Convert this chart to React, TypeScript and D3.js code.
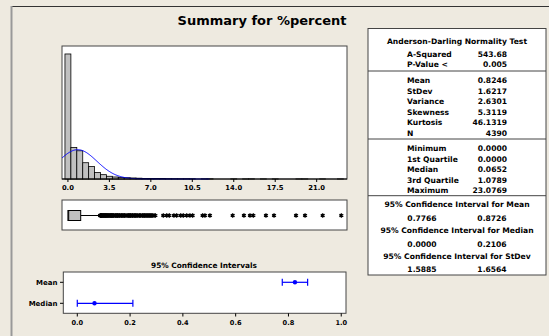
import React from 'react';
import * as d3 from 'd3';

// histogram bins (midpoints, width 0.5) and counts
const binMids = [0, 0.5, 1, 1.5, 2, 2.5, 3, 3.5, 4, 4.5, 5, 5.5, 6, 6.5, 7, 7.5, 8, 8.5, 9, 9.5, 10, 10.5, 11.5, 12, 14, 15, 15.5, 16.5, 17.5, 19.5, 20, 21.5, 23];
const binCounts = [2303, 580, 520, 300, 230, 120, 80, 50, 37, 29, 24, 19, 15, 11, 8, 10, 8, 7, 6, 5, 6, 4, 3, 3, 2, 1, 2, 1, 1, 1, 1, 1, 1];
const histTicks = [0, 3.5, 7, 10.5, 14, 17.5, 21];

// summary stats
const mean = 0.8246;
const stdev = 1.6217;
const nObs = 4390;
const quartiles = { min: 0, q1: 0, median: 0.0652, q3: 1.0789, max: 23.0769 };
const whiskerHigh = 2.7;
const outliers = [
  2.72, 2.75, 2.78, 2.8, 2.83, 2.86, 2.9, 2.94, 3.0, 3.03, 3.08, 3.12, 3.17, 3.2, 3.25, 3.3, 3.33, 3.4, 3.45, 3.5,
  3.57, 3.6, 3.67, 3.7, 3.75, 3.8, 3.85, 3.9, 4.0, 4.05, 4.1, 4.17, 4.2, 4.29, 4.35, 4.4, 4.5, 4.55, 4.6, 4.7,
  4.76, 4.8, 4.9, 5.0, 5.08, 5.13, 5.2, 5.26, 5.3, 5.4, 5.45, 5.5, 5.6, 5.66, 5.7, 5.8, 5.88, 6.0, 6.06, 6.12,
  6.25, 6.3, 6.4, 6.45, 6.52, 6.6, 6.67, 6.74, 6.82, 6.9, 6.98, 7.06, 7.14, 7.27, 7.38,
  8.05, 8.34, 8.56, 8.95, 9.18, 9.52, 9.74, 10.03, 10.3, 10.53, 11.37, 11.57, 11.99, 13.91, 14.86, 15.37, 15.65,
  16.72, 17.4, 19.26, 20.02, 21.51, 23.08,
];

// confidence intervals
const ciNames = ['Mean', 'Median'];
const ciLow = [0.7766, 0.0];
const ciEst = [0.8246, 0.0652];
const ciHigh = [0.8726, 0.2106];
const ciTicks = [0, 0.2, 0.4, 0.6, 0.8, 1.0];

// table rows
const adLabels = ['A-Squared', 'P-Value <'];
const adValues = ['543.68', '0.005'];
const momentLabels = ['Mean', 'StDev', 'Variance', 'Skewness', 'Kurtosis', 'N'];
const momentValues = ['0.8246', '1.6217', '2.6301', '5.3119', '46.1319', '4390'];
const quantLabels = ['Minimum', '1st Quartile', 'Median', '3rd Quartile', 'Maximum'];
const quantValues = ['0.0000', '0.0000', '0.0652', '1.0789', '23.0769'];
const ciTitles = ['95% Confidence Interval for Mean', '95% Confidence Interval for Median', '95% Confidence Interval for StDev'];
const ciTableLow = ['0.7766', '0.0000', '1.5885'];
const ciTableHigh = ['0.8726', '0.2106', '1.6564'];

const FONT = '"DejaVu Sans", Verdana, sans-serif';
const BG = '#EEEAE0';
const FRAME = '#444';
const TFS = 7.6; // table font size

export default function App() {
  // histogram
  const xH = d3.scaleLinear().domain([-0.5, 23.56]).range([62, 347]);
  const yH = d3.scaleLinear().domain([0, 2450]).range([179, 46]);
  const binW = 0.5;
  const pdf = (v: number) => Math.exp(-0.5 * ((v - mean) / stdev) ** 2) / (stdev * Math.sqrt(2 * Math.PI));
  const curvePts = d3.range(-0.5, 12, 0.05).map(v => [v, nObs * binW * pdf(v)] as [number, number]);
  const curve = d3.line<[number, number]>().x(d => xH(d[0])).y(d => yH(d[1]))(curvePts) || '';

  // boxplot
  const boxY = 215.5;
  const star = d3.symbol(d3.symbolAsterisk, 14)() || '';

  // CI plot
  const xC = d3.scaleLinear().domain([-0.053, 1.018]).range([63.3, 346]);
  const yC = d3.scalePoint().domain(ciNames).range([282.3, 303.3]);

  const rowH = 10.6;
  const labX = 407;
  const valX = 507;

  return (
    <svg width={549} height={336} style={{ position: 'absolute', left: 0, top: 0 }} fontFamily={FONT}>
      <rect x={0} y={0} width={549} height={336} fill={BG} />
      <line x1={11} x2={549} y1={6.5} y2={6.5} stroke="#333" strokeWidth={1} />
      <line x1={11.5} x2={11.5} y1={6} y2={336} stroke="#999" strokeWidth={2} />

      <text x={262} y={25} textAnchor="middle" fontSize={13} fontWeight="bold" fill="#000">Summary for %percent</text>

      {/* histogram */}
      <rect x={62} y={46} width={285} height={133} fill="#fff" stroke={FRAME} />
      {binMids.map((m, i) => (
        <rect key={i} x={xH(m - binW / 2)} y={yH(binCounts[i])} width={xH(m + binW / 2) - xH(m - binW / 2)}
          height={yH(0) - yH(binCounts[i])} fill="#C0C0C0" stroke="#000" strokeWidth={0.8} />
      ))}
      <path d={curve} fill="none" stroke="#0000FF" strokeWidth={1} />
      <line x1={62} x2={347} y1={179} y2={179} stroke="#000" strokeWidth={1.2} />
      {histTicks.map(t => (
        <g key={t}>
          <line x1={xH(t)} x2={xH(t)} y1={179} y2={182} stroke="#000" />
          <text x={xH(t)} y={190} textAnchor="middle" fontSize={6.8} fontWeight="bold">{t.toFixed(1)}</text>
        </g>
      ))}

      {/* boxplot */}
      <rect x={62} y={200} width={285} height={30} fill="#fff" stroke={FRAME} />
      <line x1={xH(quartiles.q3)} x2={xH(whiskerHigh)} y1={boxY} y2={boxY} stroke="#000" />
      <rect x={xH(quartiles.q1)} y={boxY - 5} width={xH(quartiles.q3) - xH(quartiles.q1)} height={10}
        fill="#C0C0C0" stroke="#000" />
      <line x1={xH(quartiles.median)} x2={xH(quartiles.median)} y1={boxY - 5} y2={boxY + 5} stroke="#000" />
      {outliers.map((o, i) => (
        <path key={i} d={star} transform={`translate(${xH(o)},${boxY})`} fill="none" stroke="#000" strokeWidth={1.3} />
      ))}

      {/* CI plot */}
      <text x={204} y={268} textAnchor="middle" fontSize={7.4} fontWeight="bold">95% Confidence Intervals</text>
      <rect x={63.3} y={272} width={282.7} height={41.3} fill="#fff" stroke={FRAME} />
      {ciNames.map((n, i) => {
        const y = yC(n) as number;
        return (
          <g key={n}>
            <line x1={60} x2={63.3} y1={y} y2={y} stroke="#000" />
            <text x={57.5} y={y + 2.5} textAnchor="end" fontSize={7} fontWeight="bold">{n}</text>
            <line x1={xC(ciLow[i])} x2={xC(ciHigh[i])} y1={y} y2={y} stroke="#0000FF" strokeWidth={1.2} />
            <line x1={xC(ciLow[i])} x2={xC(ciLow[i])} y1={y - 3.5} y2={y + 3.5} stroke="#0000FF" strokeWidth={1.2} />
            <line x1={xC(ciHigh[i])} x2={xC(ciHigh[i])} y1={y - 3.5} y2={y + 3.5} stroke="#0000FF" strokeWidth={1.2} />
            <circle cx={xC(ciEst[i])} cy={y} r={2.2} fill="#0000FF" />
          </g>
        );
      })}
      {ciTicks.map(t => (
        <g key={t}>
          <line x1={xC(t)} x2={xC(t)} y1={313.3} y2={316.5} stroke="#000" />
          <text x={xC(t)} y={325} textAnchor="middle" fontSize={6.6} fontWeight="bold">{t.toFixed(1)}</text>
        </g>
      ))}

      {/* stats table */}
      <rect x={368} y={28.5} width={178} height={246.5} fill="#fff" stroke={FRAME} />
      <text x={457} y={44} textAnchor="middle" fontSize={TFS} fontWeight="bold">Anderson-Darling Normality Test</text>
      {adLabels.map((l, i) => (
        <g key={l} fontSize={TFS} fontWeight="bold">
          <text x={labX} y={57 + i * 10} >{l}</text>
          <text x={valX} y={57 + i * 10} textAnchor="end">{adValues[i]}</text>
        </g>
      ))}
      <line x1={368} x2={546} y1={71} y2={71} stroke={FRAME} />
      {momentLabels.map((l, i) => (
        <g key={l} fontSize={TFS} fontWeight="bold">
          <text x={labX} y={83 + i * rowH}>{l}</text>
          <text x={valX} y={83 + i * rowH} textAnchor="end">{momentValues[i]}</text>
        </g>
      ))}
      <line x1={368} x2={546} y1={139} y2={139} stroke={FRAME} />
      {quantLabels.map((l, i) => (
        <g key={l} fontSize={TFS} fontWeight="bold">
          <text x={labX} y={151 + i * 10.6}>{l}</text>
          <text x={valX} y={151 + i * 10.6} textAnchor="end">{quantValues[i]}</text>
        </g>
      ))}
      <line x1={368} x2={546} y1={195.7} y2={195.7} stroke={FRAME} />
      {ciTitles.map((t, i) => (
        <g key={t} fontSize={TFS} fontWeight="bold">
          <text x={457} y={207 + i * 25.8} textAnchor="middle">{t}</text>
          <text x={422} y={221 + i * 25.6} textAnchor="middle">{ciTableLow[i]}</text>
          <text x={492} y={221 + i * 25.6} textAnchor="middle">{ciTableHigh[i]}</text>
        </g>
      ))}
    </svg>
  );
}
